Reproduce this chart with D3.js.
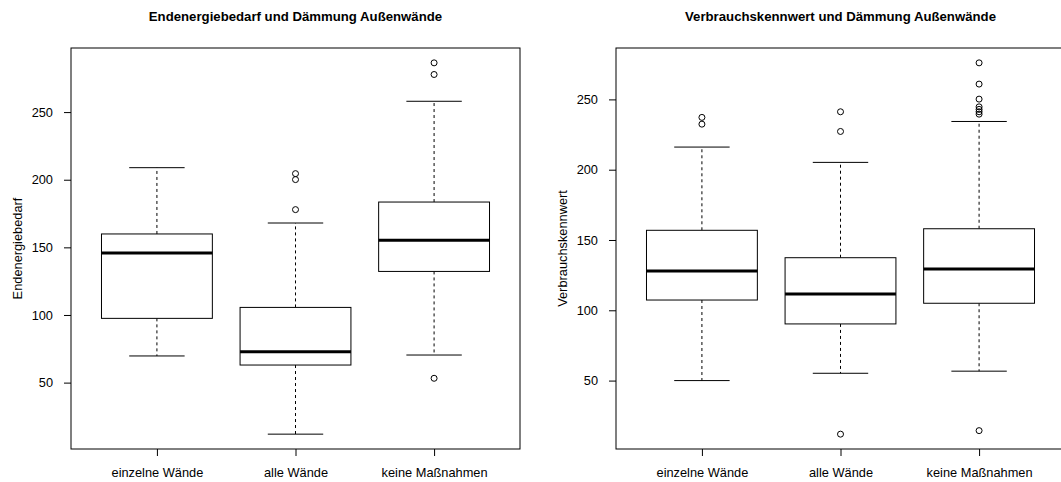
<!DOCTYPE html>
<html>
<head>
<meta charset="utf-8">
<script src="https://cdn.jsdelivr.net/npm/d3@7"></script>
<style>
  html, body { margin: 0; padding: 0; background: #ffffff; }
  svg { display: block; }
  text { font-family: "Liberation Sans", Arial, Helvetica, sans-serif; fill: #000; }
</style>
</head>
<body>
<svg id="chart" width="1061" height="482"></svg>
<script>
// ---------- data ----------
const categories = ["einzelne Wände", "alle Wände", "keine Maßnahmen"];
const yTicks = [50, 100, 150, 200, 250];

// Plot 1: Endenergiebedarf
const title1 = "Endenergiebedarf und Dämmung Außenwände";
const ylab1 = "Endenergiebedarf";
const whiskerLow1  = [69.7, 11.9, 70.4];
const q1_1         = [97.5, 63.0, 132.2];
const median1      = [145.9, 72.8, 155.3];
const q3_1         = [159.9, 105.6, 183.5];
const whiskerHigh1 = [208.9, 168.0, 258.0];
const outliers1    = [[], [177.9, 200.1, 204.5], [53.2, 277.8, 286.4]];

// Plot 2: Verbrauchskennwert
const title2 = "Verbrauchskennwert und Dämmung Außenwände";
const ylab2 = "Verbrauchskennwert";
const whiskerLow2  = [50.0, 55.2, 56.7];
const q1_2         = [107.3, 90.3, 105.0];
const median2      = [127.9, 111.6, 129.4];
const q3_2         = [156.9, 137.4, 158.0];
const whiskerHigh2 = [216.1, 205.2, 234.3];
const outliers2    = [[232.4, 237.2], [11.9, 227.2, 241.2], [14.4, 239.5, 241.2, 242.9, 244.7, 250.2, 260.9, 276.0]];

// ---------- drawing ----------
const svg = d3.select("#chart");
const AXIS_FONT = 12.8;
const TITLE_FONT = 13.2;

function panel(opts) {
  const { left, right, top, bottom, title, ylab, lo, q1, med, q3, hi, out } = opts;
  const g = svg.append("g");

  // R-style axis extension (4%)
  const all = [].concat(lo, hi, ...out);
  const mn = d3.min(all), mx = d3.max(all), r = mx - mn;
  const y = d3.scaleLinear().domain([mn - 0.04 * r, mx + 0.04 * r]).range([bottom, top]);
  const x = d3.scaleLinear().domain([0.38, categories.length + 0.62]).range([left, right]);

  const bw = x(0.8) - x(0);     // box width
  const cw = x(0.4) - x(0);     // staple width

  const data = categories.map((c, i) => ({
    c, i, lo: lo[i], q1: q1[i], med: med[i], q3: q3[i], hi: hi[i], out: out[i]
  }));

  const boxes = g.selectAll("g.box").data(data).join("g").attr("class", "box");

  // whiskers (dashed)
  boxes.append("line")
    .attr("x1", d => x(d.i + 1)).attr("x2", d => x(d.i + 1))
    .attr("y1", d => y(d.q3)).attr("y2", d => y(d.hi))
    .attr("stroke", "#000").attr("stroke-width", 1).attr("stroke-dasharray", "3,3");
  boxes.append("line")
    .attr("x1", d => x(d.i + 1)).attr("x2", d => x(d.i + 1))
    .attr("y1", d => y(d.q1)).attr("y2", d => y(d.lo))
    .attr("stroke", "#000").attr("stroke-width", 1).attr("stroke-dasharray", "3,3");
  // staples
  boxes.append("line")
    .attr("x1", d => x(d.i + 1) - cw / 2).attr("x2", d => x(d.i + 1) + cw / 2)
    .attr("y1", d => y(d.hi)).attr("y2", d => y(d.hi))
    .attr("stroke", "#000").attr("stroke-width", 1);
  boxes.append("line")
    .attr("x1", d => x(d.i + 1) - cw / 2).attr("x2", d => x(d.i + 1) + cw / 2)
    .attr("y1", d => y(d.lo)).attr("y2", d => y(d.lo))
    .attr("stroke", "#000").attr("stroke-width", 1);
  // box
  boxes.append("rect")
    .attr("x", d => x(d.i + 1) - bw / 2).attr("width", bw)
    .attr("y", d => y(d.q3)).attr("height", d => y(d.q1) - y(d.q3))
    .attr("fill", "#fff").attr("stroke", "#000").attr("stroke-width", 1);
  // median
  boxes.append("line")
    .attr("x1", d => x(d.i + 1) - bw / 2).attr("x2", d => x(d.i + 1) + bw / 2)
    .attr("y1", d => y(d.med)).attr("y2", d => y(d.med))
    .attr("stroke", "#000").attr("stroke-width", 3);
  // outliers
  boxes.selectAll("circle").data(d => d.out.map(v => ({ i: d.i, v }))).join("circle")
    .attr("cx", d => x(d.i + 1)).attr("cy", d => y(d.v)).attr("r", 3)
    .attr("fill", "none").attr("stroke", "#000").attr("stroke-width", 1);

  // frame
  g.append("rect")
    .attr("x", left).attr("y", top).attr("width", right - left).attr("height", bottom - top)
    .attr("fill", "none").attr("stroke", "#000").attr("stroke-width", 1);

  // y axis
  const ya = g.append("g").attr("transform", `translate(${left},0)`)
    .call(d3.axisLeft(y).tickValues(yTicks).tickSize(7).tickPadding(11).tickFormat(d3.format("d")));
  ya.select(".domain").remove();
  ya.selectAll("line").attr("stroke", "#000");
  ya.selectAll("text").attr("font-size", AXIS_FONT).attr("font-family", null).attr("fill", "#000");

  // x axis
  const xa = g.append("g").attr("transform", `translate(0,${bottom})`)
    .call(d3.axisBottom(x).tickValues(categories.map((c, i) => i + 1)).tickSize(7).tickPadding(12)
      .tickFormat((d) => categories[d - 1]));
  xa.select(".domain").remove();
  xa.selectAll("line").attr("stroke", "#000");
  xa.selectAll("text").attr("font-size", AXIS_FONT).attr("font-family", null).attr("fill", "#000");

  // title
  g.append("text")
    .attr("x", (left + right) / 2).attr("y", 21)
    .attr("text-anchor", "middle").attr("font-weight", "bold").attr("font-size", TITLE_FONT)
    .text(title);

  // y label
  g.append("text")
    .attr("transform", `translate(${left - 49},${(top + bottom) / 2}) rotate(-90)`)
    .attr("text-anchor", "middle").attr("font-size", AXIS_FONT)
    .text(ylab);
}

panel({ left: 71, right: 520, top: 48, bottom: 449, title: title1, ylab: ylab1,
        lo: whiskerLow1, q1: q1_1, med: median1, q3: q3_1, hi: whiskerHigh1, out: outliers1 });
panel({ left: 616, right: 1065, top: 48, bottom: 449, title: title2, ylab: ylab2,
        lo: whiskerLow2, q1: q1_2, med: median2, q3: q3_2, hi: whiskerHigh2, out: outliers2 });
</script>
</body>
</html>
